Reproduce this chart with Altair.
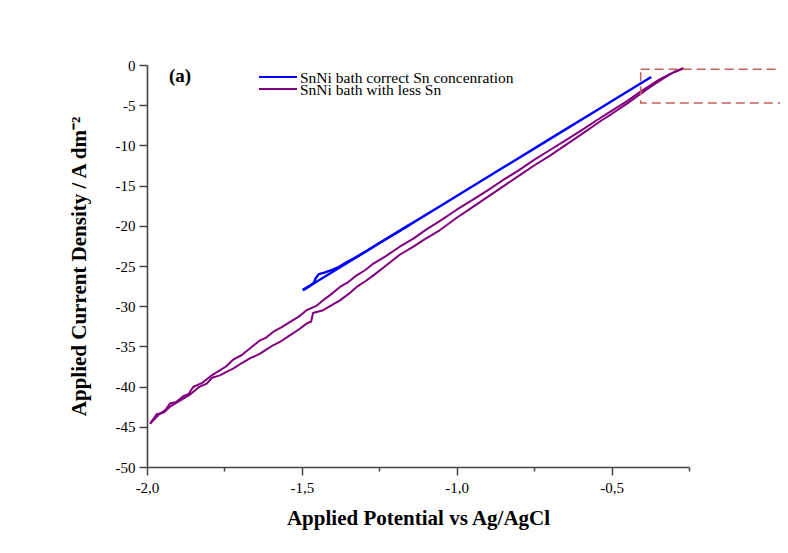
import altair as alt
import pandas as pd

# ---------------- data ----------------
series_names = ["SnNi bath correct Sn concenration", "SnNi bath with less Sn"]
series_colors = ["#0000ff", "#800080"]

# blue: cathodic sweep and return sweep
blue_a_x = [-0.372, -0.45, -0.55, -0.65, -0.75, -0.85, -0.95, -1.05, -1.15, -1.25, -1.35, -1.45, -1.497]
blue_a_y = [-1.5, -3.33, -5.69, -8.04, -10.40, -12.76, -15.11, -17.47, -19.82, -22.18, -24.54, -26.89, -28.0]
blue_b_x = [-1.497, -1.475, -1.462, -1.455, -1.445, -1.425, -1.40, -1.38, -1.356, -1.33, -1.29, -1.25, -1.2, -1.15]
blue_b_y = [-28.0, -27.5, -27.1, -26.5, -26.0, -25.8, -25.45, -25.1, -24.55, -24.0, -23.1, -22.15, -21.0, -19.82]

# purple: two strands
pur_a_x = [-1.990, -1.975, -1.969, -1.955, -1.940, -1.926, -1.905, -1.883, -1.865, -1.851, -1.820, -1.791,
           -1.765, -1.745, -1.722, -1.695, -1.668, -1.635, -1.615, -1.593, -1.565, -1.539, -1.510, -1.485,
           -1.455, -1.431, -1.405, -1.377, -1.350, -1.323, -1.295, -1.269, -1.230, -1.184, -1.140, -1.100,
           -1.050, -1.000, -0.950, -0.900, -0.850, -0.800, -0.750, -0.700, -0.650, -0.600, -0.549, -0.500,
           -0.450, -0.410, -0.370, -0.345, -0.310, -0.285, -0.268]
pur_a_y = [-44.6, -43.8, -43.45, -43.3, -42.9, -42.1, -41.9, -41.2, -40.9, -40.05, -39.5, -38.6,
           -37.97, -37.5, -36.65, -36.1, -35.27, -34.24, -33.9, -33.2, -32.6, -31.97, -31.3, -30.5,
           -30.0, -29.27, -28.5, -27.6, -27.0, -26.16, -25.5, -24.7, -23.8, -22.6, -21.6, -20.5,
           -19.3, -18.0, -16.8, -15.6, -14.3, -13.1, -11.8, -10.6, -9.4, -8.2, -6.9, -5.7,
           -4.5, -3.4, -2.4, -1.8, -1.1, -0.7, -0.4]
pur_b_x = [-1.990, -1.975, -1.960, -1.945, -1.926, -1.900, -1.883, -1.865, -1.851, -1.830, -1.807, -1.790,
           -1.765, -1.745, -1.722, -1.695, -1.668, -1.635, -1.615, -1.593, -1.565, -1.539, -1.510, -1.485,
           -1.470, -1.464, -1.431, -1.405, -1.377, -1.350, -1.323, -1.295, -1.269, -1.230, -1.184, -1.140,
           -1.100, -1.055, -1.000, -0.950, -0.900, -0.850, -0.800, -0.750, -0.700, -0.650, -0.600, -0.533,
           -0.500, -0.450, -0.410, -0.370, -0.330, -0.300, -0.268]
pur_b_y = [-44.6, -44.0, -43.4, -43.2, -42.5, -41.9, -41.5, -41.1, -40.67, -40.0, -39.63, -38.9,
           -38.6, -38.2, -37.77, -37.1, -36.5, -35.9, -35.4, -34.86, -34.3, -33.62, -32.9, -32.17,
           -31.9, -30.85, -30.5, -29.9, -29.27, -28.5, -27.6, -26.9, -26.16, -25.0, -23.6, -22.6,
           -21.6, -20.56, -19.0, -17.7, -16.4, -15.1, -13.8, -12.5, -11.3, -10.0, -8.7, -6.9,
           -6.1, -4.8, -3.7, -2.6, -1.6, -0.9, -0.4]

# dashed highlight box
box_x = [-0.406, 0.25]
box_y = [-0.53, -4.73]

x_ticks = [-2.0, -1.75, -1.5, -1.25, -1.0, -0.75, -0.5, -0.25]
y_ticks = [0, -2.5, -5, -7.5, -10, -12.5, -15, -17.5, -20, -22.5, -25, -27.5, -30, -32.5,
           -35, -37.5, -40, -42.5, -45, -47.5, -50]

# ---------------- build table ----------------
rows = []
def add(xs, ys, series, strand):
    for i, (a, b) in enumerate(zip(xs, ys)):
        rows.append({"x": a, "y": b, "series": series, "strand": strand, "order": i})

add(blue_a_x, blue_a_y, series_names[0], "b1")
add(blue_b_x, blue_b_y, series_names[0], "b2")
add(pur_a_x, pur_a_y, series_names[1], "p1")
add(pur_b_x, pur_b_y, series_names[1], "p2")
df = pd.DataFrame(rows)

FONT = "Liberation Serif"
X_TITLE = "Applied Potential vs Ag/AgCl"
Y_TITLE = "Applied Current Density / A dm\u207b\u00b2"

x_axis = alt.Axis(
    values=x_ticks,
    labelExpr="abs(datum.value*2 - round(datum.value*2)) < 1e-6 ? (datum.value < 0 ? '-' : '') + replace(format(abs(datum.value), '.1f'), '.', ',') : ''",
    tickSize={"condition": {"test": "abs(datum.value*2 - round(datum.value*2)) < 1e-6", "value": 8}, "value": 4},
    labelPadding=5, labelFont=FONT, labelFontSize=15, labelColor="black",
    title=X_TITLE, titlePadding=12,
)
y_axis = alt.Axis(
    values=y_ticks,
    labelExpr="datum.value % 5 === 0 ? (datum.value < 0 ? '-' : '') + format(abs(datum.value), 'd') : ''",
    tickSize={"condition": {"test": "datum.value % 5 === 0", "value": 8}, "value": 4},
    labelPadding=4, labelFont=FONT, labelFontSize=15, labelColor="black",
    title=Y_TITLE, titlePadding=26,
)

xs = alt.Scale(domain=[-2.0, -0.25], nice=False, zero=False)
ys = alt.Scale(domain=[-50, 0], nice=False, zero=False)

lines = alt.Chart(df).mark_line(clip=False, strokeJoin="round").encode(
    x=alt.X("x:Q", scale=xs, axis=x_axis, title=X_TITLE),
    y=alt.Y("y:Q", scale=ys, axis=y_axis, title=Y_TITLE),
    color=alt.Color("series:N", scale=alt.Scale(domain=series_names, range=series_colors), legend=None),
    size=alt.Size("series:N", scale=alt.Scale(domain=series_names, range=[2.4, 2.0]), legend=None),
    detail="strand:N",
    order="order:Q",
)

box_df = pd.DataFrame({"x": [box_x[0]], "x2": [box_x[1]], "y": [box_y[0]], "y2": [box_y[1]]})
box = alt.Chart(box_df).mark_rect(fillOpacity=0, stroke="#c46060", strokeWidth=1.5,
                                  strokeDash=[9, 5], clip=False).encode(
    x=alt.X("x:Q", title=X_TITLE), x2="x2:Q", y=alt.Y("y:Q", title=Y_TITLE), y2="y2:Q"
)

layers = [lines, box]

# legend drawn inside plot
for i, (name, col) in enumerate(zip(series_names, series_colors)):
    ldf = pd.DataFrame({"label": [name]})
    layers.append(alt.Chart(ldf).mark_rule(color=col, strokeWidth=2.2).encode(
        x=alt.value(112), x2=alt.value(150), y=alt.value(12 + 12 * i)))
    layers.append(alt.Chart(ldf).mark_text(font=FONT, fontSize=15.5, align="left", baseline="middle",
                                            color="black").encode(
        text="label:N", x=alt.value(153), y=alt.value(12.5 + 12 * i)))

tag_df = pd.DataFrame({"label": ["(a)"]})
layers.append(alt.Chart(tag_df).mark_text(font=FONT, fontSize=19, fontWeight="bold", align="center",
                                           baseline="middle", color="black").encode(
    text="label:N", x=alt.value(33), y=alt.value(11)))

chart = alt.layer(*layers).properties(
    width=542, height=402,
    autosize=alt.AutoSizeParams(type="none"),
    padding={"left": 139, "top": 57, "right": 91, "bottom": 78},
    background="white",
).configure_view(stroke=None).configure_axis(
    grid=False,
    domainColor="#444444", domainWidth=1.6, tickColor="#444444", tickWidth=1.5,
    labelFont=FONT, labelFontSize=15, labelColor="black",
    labelFlush=False, labelOverlap=False,
    titleFont=FONT, titleFontSize=21, titleFontWeight="bold", titleColor="black",
)

chart.save("out.html", embed_options={"renderer": "svg", "actions": False})
